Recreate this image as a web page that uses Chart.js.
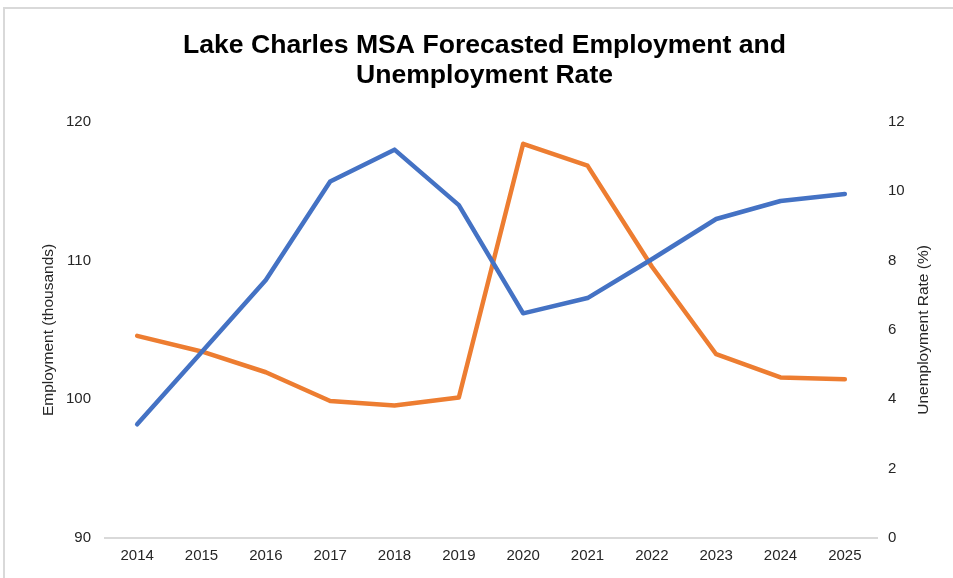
<!DOCTYPE html>
<html>
<head>
<meta charset="utf-8">
<script src="https://cdn.jsdelivr.net/npm/chart.js@4"></script>
<style>
  html, body { margin: 0; padding: 0; background: #fff; overflow: hidden; }
  #frame { position: absolute; left: 3px; top: 7px; width: 1000px; height: 600px;
           border-left: 2px solid #d9d9d9; border-top: 2px solid #d9d9d9; }
  #wrap { position: absolute; left: 0; top: 0; width: 953px; height: 578px; }
</style>
</head>
<body>
<div id="frame"></div>
<div id="wrap"><canvas id="chart" width="953" height="578"></canvas></div>
<script>
// Years on the category axis
const years = ['2014', '2015', '2016', '2017', '2018', '2019', '2020', '2021', '2022', '2023', '2024', '2025'];
// Employment, thousands (left axis)
const employment = [98.2, 103.4, 108.6, 115.7, 118.0, 114.0, 106.2, 107.3, 110.1, 113.0, 114.3, 114.8];
// Unemployment rate, percent (right axis)
const unemploymentRate = [5.83, 5.38, 4.78, 3.95, 3.82, 4.05, 11.37, 10.74, 7.83, 5.30, 4.63, 4.58];

const employmentTicks = { min: 90, max: 120, step: 10 };
const rateTicks = { min: 0, max: 12, step: 2 };
const rateTitle = 'Unemployment Rate (%)';

const textColor = '#262626';
const family = 'Arial, "Liberation Sans", sans-serif';

// Right-hand axis title, written bottom-to-top like the left one
const rightTitlePlugin = {
  id: 'rightTitle',
  afterDraw(chart) {
    const s = chart.scales.yRate;
    const ctx = chart.ctx;
    ctx.save();
    ctx.translate(s.right - 29, (s.top + s.bottom) / 2);
    ctx.rotate(-Math.PI / 2);
    ctx.font = '15.5px ' + family;
    ctx.fillStyle = textColor;
    ctx.textAlign = 'center';
    ctx.textBaseline = 'middle';
    ctx.fillText(rateTitle, 0, 0);
    ctx.restore();
  }
};

new Chart(document.getElementById('chart'), {
  type: 'line',
  data: {
    labels: years,
    datasets: [
      {
        label: 'Employment (thousands)',
        data: employment,
        yAxisID: 'yEmp',
        borderColor: '#4472C4',
        backgroundColor: '#4472C4',
        borderWidth: 4.5,
        borderCapStyle: 'round',
        borderJoinStyle: 'round',
        pointRadius: 0,
        tension: 0
      },
      {
        label: rateTitle,
        data: unemploymentRate,
        yAxisID: 'yRate',
        borderColor: '#ED7D31',
        backgroundColor: '#ED7D31',
        borderWidth: 4.5,
        borderCapStyle: 'round',
        borderJoinStyle: 'round',
        pointRadius: 0,
        tension: 0
      }
    ]
  },
  plugins: [rightTitlePlugin],
  options: {
    responsive: false,
    animation: false,
    layout: { padding: { left: 16, right: 0, top: 0, bottom: 0 } },
    plugins: {
      legend: { display: false },
      tooltip: { enabled: false },
      title: {
        display: true,
        text: ['Lake Charles MSA Forecasted Employment and', 'Unemployment Rate'],
        color: '#000',
        font: { family: family, size: 26.6, weight: 'bold', lineHeight: 1.13 },
        padding: { top: 31, bottom: 30.8 }
      }
    },
    scales: {
      x: {
        offset: true,
        grid: { display: false, drawTicks: false },
        border: { display: true, color: '#d9d9d9', width: 2 },
        ticks: { color: textColor, font: { family: family, size: 15 }, padding: 9, maxRotation: 0 },
        afterFit: (s) => { s.height = 40; }
      },
      yEmp: {
        position: 'left',
        min: employmentTicks.min,
        max: employmentTicks.max,
        grid: { display: false, drawTicks: false },
        border: { display: false },
        ticks: { stepSize: employmentTicks.step, color: textColor, font: { family: family, size: 15 }, padding: 14 },
        title: {
          display: true,
          text: 'Employment (thousands)',
          color: textColor,
          font: { family: family, size: 15.5 },
          padding: { top: 23, bottom: 0 }
        },
        afterFit: (s) => { s.width = 89; }
      },
      yRate: {
        position: 'right',
        min: rateTicks.min,
        max: rateTicks.max,
        grid: { display: false, drawTicks: false },
        border: { display: false },
        ticks: { stepSize: rateTicks.step, color: textColor, font: { family: family, size: 15 }, padding: 11 },
        afterFit: (s) => { s.width = 76; }
      }
    }
  }
});
</script>
</body>
</html>
